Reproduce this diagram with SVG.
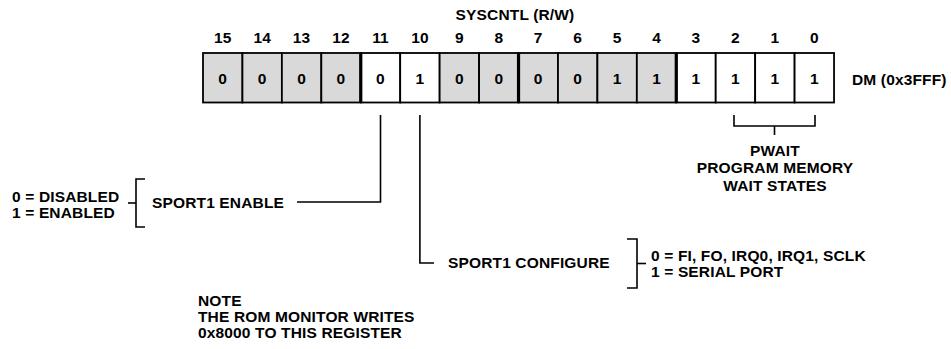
<svg xmlns="http://www.w3.org/2000/svg" width="951" height="349" viewBox="0 0 951 349">
<style>
text{font-family:"Liberation Sans",Arial,Helvetica,sans-serif;font-weight:bold;font-size:15.5px;letter-spacing:0.15px;fill:#000}
.c{text-anchor:middle}
.g{fill:#d9d9d9;stroke:#000;stroke-width:1.8}
.w{fill:#fff;stroke:#000;stroke-width:1.8}
.thick{stroke:#000;stroke-width:3.2}
.ln{fill:none;stroke:#000;stroke-width:1.6}
</style>
<text class="c" x="515" y="20">SYSCNTL (R/W)</text>
<g id="register">
<g id="bitnums">
<text class="c" x="222.7" y="43">15</text>
<text class="c" x="262.2" y="43">14</text>
<text class="c" x="301.6" y="43">13</text>
<text class="c" x="341" y="43">12</text>
<text class="c" x="380.5" y="43">11</text>
<text class="c" x="419.9" y="43">10</text>
<text class="c" x="459.4" y="43">9</text>
<text class="c" x="498.8" y="43">8</text>
<text class="c" x="538.2" y="43">7</text>
<text class="c" x="577.7" y="43">6</text>
<text class="c" x="617.1" y="43">5</text>
<text class="c" x="656.6" y="43">4</text>
<text class="c" x="696" y="43">3</text>
<text class="c" x="735.4" y="43">2</text>
<text class="c" x="774.9" y="43">1</text>
<text class="c" x="814.3" y="43">0</text>
</g>
<g id="cells">
<rect class="g" x="203" y="53" width="39.44" height="49.5"/>
<rect class="g" x="242.44" y="53" width="39.44" height="49.5"/>
<rect class="g" x="281.88" y="53" width="39.44" height="49.5"/>
<rect class="g" x="321.32" y="53" width="39.44" height="49.5"/>
<rect class="w" x="360.76" y="53" width="39.44" height="49.5"/>
<rect class="w" x="400.2" y="53" width="39.44" height="49.5"/>
<rect class="g" x="439.64" y="53" width="39.44" height="49.5"/>
<rect class="g" x="479.08" y="53" width="39.44" height="49.5"/>
<rect class="g" x="518.52" y="53" width="39.44" height="49.5"/>
<rect class="g" x="557.96" y="53" width="39.44" height="49.5"/>
<rect class="g" x="597.4" y="53" width="39.44" height="49.5"/>
<rect class="g" x="636.84" y="53" width="39.44" height="49.5"/>
<rect class="w" x="676.28" y="53" width="39.44" height="49.5"/>
<rect class="w" x="715.72" y="53" width="39.44" height="49.5"/>
<rect class="w" x="755.16" y="53" width="39.44" height="49.5"/>
<rect class="w" x="794.6" y="53" width="39.44" height="49.5"/>
<line class="thick" x1="360.76" y1="53" x2="360.76" y2="102.5"/>
<line class="thick" x1="518.52" y1="53" x2="518.52" y2="102.5"/>
<line class="thick" x1="676.28" y1="53" x2="676.28" y2="102.5"/>
</g>
<g id="values">
<text class="c" x="222.7" y="84">0</text>
<text class="c" x="262.2" y="84">0</text>
<text class="c" x="301.6" y="84">0</text>
<text class="c" x="341" y="84">0</text>
<text class="c" x="380.5" y="84">0</text>
<text class="c" x="419.9" y="84">1</text>
<text class="c" x="459.4" y="84">0</text>
<text class="c" x="498.8" y="84">0</text>
<text class="c" x="538.2" y="84">0</text>
<text class="c" x="577.7" y="84">0</text>
<text class="c" x="617.1" y="84">1</text>
<text class="c" x="656.6" y="84">1</text>
<text class="c" x="696" y="84">1</text>
<text class="c" x="735.4" y="84">1</text>
<text class="c" x="774.9" y="84">1</text>
<text class="c" x="814.3" y="84">1</text>
</g>
</g>
<text x="852" y="85">DM (0x3FFF)</text>
<g id="connectors">
<polyline class="ln" points="380.5,115 380.5,202 297,202"/>
<polyline class="ln" points="419.9,115 419.9,263 434,263"/>
<polyline class="ln" points="734,115 734,126 815,126 815,115"/>
<line class="ln" x1="774.5" y1="126" x2="774.5" y2="135"/>
</g>
<g id="pwait">
<text class="c" x="775" y="156">PWAIT</text>
<text class="c" x="775" y="173">PROGRAM MEMORY</text>
<text class="c" x="775" y="190.5">WAIT STATES</text>
</g>
<g id="sport1-enable">
<text x="152" y="208">SPORT1 ENABLE</text>
<polyline class="ln" points="145,179 136,179 136,227 145,227"/>
<line class="ln" x1="128" y1="203" x2="136" y2="203"/>
<text x="12" y="201.5">0 = DISABLED</text>
<text x="12" y="217.5">1 = ENABLED</text>
</g>
<g id="sport1-configure">
<text x="448" y="268">SPORT1 CONFIGURE</text>
<polyline class="ln" points="627,239 637,239 637,288 627,288"/>
<line class="ln" x1="637" y1="263.5" x2="646" y2="263.5"/>
<text x="651" y="261">0 = FI, FO, IRQ0, IRQ1, SCLK</text>
<text x="651" y="277">1 = SERIAL PORT</text>
</g>
<g id="note">
<text x="198" y="306">NOTE</text>
<text x="198" y="322">THE ROM MONITOR WRITES</text>
<text x="198" y="338">0x8000 TO THIS REGISTER</text>
</g>
</svg>
